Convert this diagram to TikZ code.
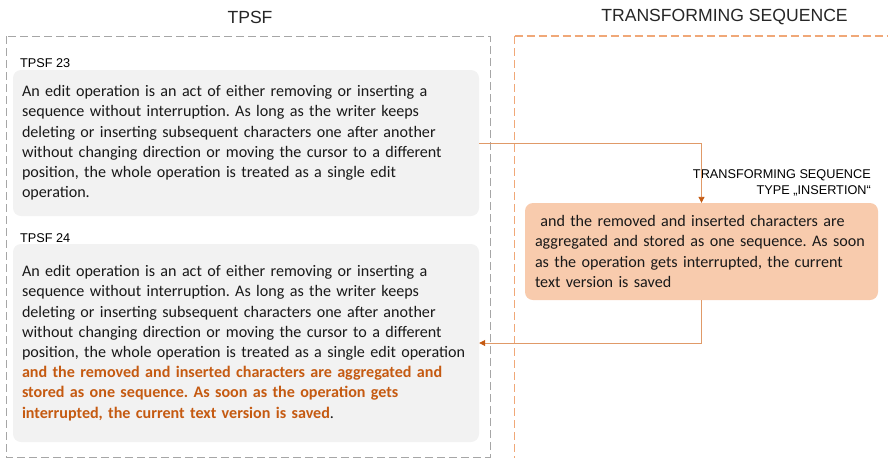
\documentclass[tikz,border=0pt]{standalone}
\usepackage{fontspec}
\setmainfont{Carlito}
\newfontfamily\arialfont{Liberation Sans}
\usetikzlibrary{arrows.meta}
\frenchspacing

\definecolor{framegray}{HTML}{A6A6A6}
\definecolor{frameorange}{HTML}{F0A878}
\definecolor{boxgray}{HTML}{F2F2F2}
\definecolor{boxorange}{HTML}{F8CBAD}
\definecolor{linkorange}{HTML}{E09A68}
\definecolor{tiporange}{HTML}{C55A11}
\definecolor{textorange}{HTML}{C55A11}

\tikzset{
  panel/.style={dash pattern=on 8pt off 4pt},
  heading/.style={font=\arialfont\fontsize{17.6}{20}\selectfont, text=black!85},
  tag/.style={font=\arialfont\fontsize{12.7}{15.5}\selectfont, inner sep=0pt},
  textbox/.style={rounded corners=8pt, align=left, inner xsep=9pt,
    font=\fontsize{16.1}{20.2}\selectfont, text=black!90},
  link/.style={draw=linkorange, line width=0.9pt,
    -{Triangle[length=6pt,width=6pt,color=tiporange]}}
}

\begin{document}
\begin{tikzpicture}[x=1pt,y=-1pt]
  \useasboundingbox (0,0) rectangle (888,459);

  % column frames
  \draw[panel, draw=framegray, line width=1pt] (6,36) rectangle (490,457);
  \draw[panel, draw=frameorange, line width=1.5pt] (514.5,36) -- (892,36);
  \draw[panel, draw=frameorange, line width=1.5pt] (514.5,36) -- (514.5,458);

  % column headings
  \node[heading] (h1) at (250,17) {TPSF};
  \node[heading] (h2) at (724.5,17) {TRANSFORMING SEQUENCE};

  % TPSF 23
  \node[tag, anchor=west] (t23) at (20,63) {TPSF 23};
  \node[textbox, fill=boxgray, minimum width=466pt, minimum height=146pt,
        text width=448pt] (box1) at (246,143)
  {An edit operation is an act of either removing or inserting a\\
   sequence without interruption. As long as the writer keeps\\
   deleting or inserting subsequent characters one after another\\
   without changing direction or moving the cursor to a different\\
   position, the whole operation is treated as a single edit\\
   operation.};

  % TPSF 24
  \node[tag, anchor=west] (t24) at (20,238) {TPSF 24};
  \node[textbox, fill=boxgray, minimum width=466pt, minimum height=198pt,
        text width=448pt] (box2) at (246,343)
  {An edit operation is an act of either removing or inserting a\\
   sequence without interruption. As long as the writer keeps\\
   deleting or inserting subsequent characters one after another\\
   without changing direction or moving the cursor to a different\\
   position, the whole operation is treated as a single edit operation\\
   {\color{textorange}\bfseries and the removed and inserted characters are aggregated and}\\
   {\color{textorange}\bfseries stored as one sequence. As soon as the operation gets}\\
   {\color{textorange}\bfseries interrupted, the current text version is saved}.};

  % transforming sequence
  \node[tag, anchor=east, align=right] (tslabel) at (871,183)
  {TRANSFORMING SEQUENCE\\TYPE „INSERTION“};
  \node[textbox, fill=boxorange, minimum width=353pt, minimum height=97pt,
        text width=333pt, inner xsep=10pt] (tbox) at (701.5,251.5)
  {\ and the removed and inserted characters are\\
   aggregated and stored as one sequence. As soon\\
   as the operation gets interrupted, the current\\
   text version is saved};

  % connectors
  \draw[link] (box1.east) -| (tbox.north);
  \draw[link] (tbox.south) |- (box2.east);
\end{tikzpicture}
\end{document}
